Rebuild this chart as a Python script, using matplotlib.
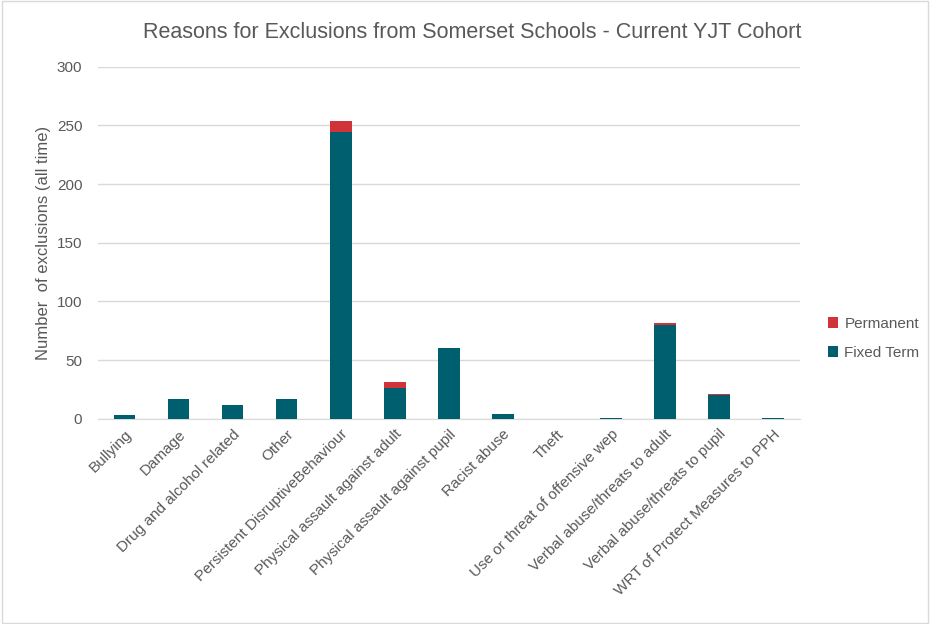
import numpy as np
import matplotlib
matplotlib.use('Agg')
import matplotlib.pyplot as plt

categories = ['Bullying', 'Damage', 'Drug and alcohol related', 'Other',
              'Persistent DisruptiveBehaviour', 'Physical assault against adult',
              'Physical assault against pupil', 'Racist abuse', 'Theft',
              'Use or threat of offensive wep', 'Verbal abuse/threats to adult',
              'Verbal abuse/threats to pupil', 'WRT of Protect Measures to PPH']
fixed_term = [3, 17, 12, 17, 244, 26, 60, 4, 0, 1, 80, 20, 1]
permanent = [0, 0, 0, 0, 10, 5, 0, 0, 0, 0, 2, 1, 0]

TEAL = '#005F6E'
RED = '#D13438'
GREY = '#595959'

plt.rcParams['font.family'] = ['Liberation Sans', 'DejaVu Sans']

fig = plt.figure(figsize=(9.3, 6.24), dpi=100)
ax = fig.add_axes([0.105, 0.329, 0.755, 0.564])

x = np.arange(len(categories))
ax.bar(x, fixed_term, width=0.4, color=TEAL, label='Fixed Term', zorder=3)
ax.bar(x, permanent, width=0.4, bottom=fixed_term, color=RED, label='Permanent', zorder=3)

ax.set_xlim(-0.5, len(categories) - 0.5)
ax.set_ylim(0, 300)
ax.set_yticks(range(0, 301, 50))
ax.grid(axis='y', color='#d9d9d9', lw=1, zorder=0)
for s in ['top', 'right', 'left']:
    ax.spines[s].set_visible(False)
ax.spines['bottom'].set_color('#d9d9d9')
ax.tick_params(axis='both', length=0, colors=GREY, labelsize=11)
ax.set_xticks(x)
ax.set_xticklabels(categories, rotation=45, ha='right', rotation_mode='anchor')
ax.tick_params(axis='x', pad=6)
ax.tick_params(axis='y', pad=11)

ax.set_ylabel('Number  of exclusions (all time)', color=GREY, fontsize=12)
fig.text(0.508, 0.948, 'Reasons for Exclusions from Somerset Schools - Current YJT Cohort',
         ha='center', va='center', fontsize=15.5, color=GREY)

handles, labels = ax.get_legend_handles_labels()
fig.legend(handles[::-1], labels[::-1], loc='center left', bbox_to_anchor=(0.875, 0.458),
           frameon=False, fontsize=11, labelcolor=GREY, handlelength=0.7,
           handleheight=0.7, handletextpad=0.4, labelspacing=1.0)

fig.patches.append(plt.Rectangle((0.002, 0.002), 0.996, 0.996, transform=fig.transFigure,
                                 fill=False, edgecolor='#d9d9d9', lw=1))

fig.savefig('out.png', dpi=100)
